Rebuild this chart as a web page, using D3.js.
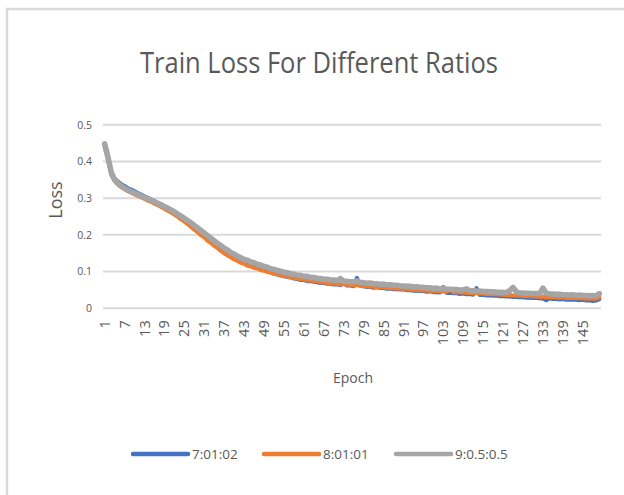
<!DOCTYPE html>
<html>
<head>
<meta charset="utf-8">
<script src="https://cdn.jsdelivr.net/npm/d3@7"></script>
<style>
  body { margin: 0; background: #fff; }
  text { font-family: "Open Sans", "Noto Sans", sans-serif; fill: #595959; }
</style>
</head>
<body>
<svg id="chart" width="624" height="495"></svg>
<script>
// Epoch categories and the ticks shown on each axis
const epochs = d3.range(1, 151);
const xTickLabels = [1, 7, 13, 19, 25, 31, 37, 43, 49, 55, 61, 67, 73, 79, 85, 91, 97,
  103, 109, 115, 121, 127, 133, 139, 145];
const yTicks = [0, 0.1, 0.2, 0.3, 0.4, 0.5];

// Training loss per epoch, one array per split ratio
const loss_7_1_2 = [
  0.445, 0.410, 0.368, 0.354, 0.345, 0.338, 0.333, 0.327, 0.323, 0.319,
  0.314, 0.310, 0.305, 0.301, 0.296, 0.292, 0.287, 0.282, 0.278, 0.272,
  0.267, 0.261, 0.255, 0.249, 0.242, 0.236, 0.229, 0.222, 0.215, 0.207,
  0.200, 0.193, 0.185, 0.179, 0.171, 0.165, 0.158, 0.151, 0.146, 0.140,
  0.136, 0.130, 0.127, 0.122, 0.119, 0.114, 0.111, 0.106, 0.104, 0.100,
  0.098, 0.094, 0.092, 0.089, 0.088, 0.085, 0.084, 0.081, 0.080, 0.077,
  0.077, 0.074, 0.074, 0.072, 0.071, 0.069, 0.069, 0.067, 0.067, 0.065,
  0.065, 0.063, 0.068, 0.062, 0.062, 0.060, 0.083, 0.061, 0.060, 0.058,
  0.058, 0.056, 0.057, 0.055, 0.055, 0.053, 0.054, 0.052, 0.052, 0.051,
  0.051, 0.049, 0.050, 0.048, 0.048, 0.047, 0.047, 0.045, 0.046, 0.044,
  0.044, 0.043, 0.058, 0.042, 0.042, 0.041, 0.041, 0.039, 0.040, 0.038,
  0.039, 0.037, 0.055, 0.036, 0.037, 0.035, 0.035, 0.034, 0.034, 0.033,
  0.033, 0.032, 0.032, 0.031, 0.031, 0.030, 0.030, 0.029, 0.029, 0.028,
  0.028, 0.027, 0.027, 0.022, 0.027, 0.025, 0.026, 0.024, 0.025, 0.023,
  0.024, 0.023, 0.023, 0.022, 0.023, 0.021, 0.022, 0.020, 0.021, 0.025
];
const loss_8_1_1 = [
  0.440, 0.403, 0.363, 0.347, 0.337, 0.330, 0.324, 0.319, 0.315, 0.310,
  0.306, 0.302, 0.298, 0.293, 0.290, 0.285, 0.281, 0.276, 0.271, 0.266,
  0.261, 0.255, 0.249, 0.242, 0.236, 0.229, 0.222, 0.214, 0.207, 0.199,
  0.193, 0.184, 0.178, 0.170, 0.164, 0.156, 0.150, 0.144, 0.139, 0.133,
  0.129, 0.124, 0.121, 0.116, 0.114, 0.110, 0.108, 0.104, 0.102, 0.099,
  0.097, 0.094, 0.093, 0.090, 0.089, 0.086, 0.085, 0.082, 0.082, 0.079,
  0.079, 0.076, 0.076, 0.074, 0.074, 0.071, 0.071, 0.069, 0.069, 0.067,
  0.067, 0.065, 0.066, 0.064, 0.064, 0.062, 0.063, 0.061, 0.061, 0.059,
  0.060, 0.058, 0.058, 0.057, 0.057, 0.055, 0.056, 0.054, 0.054, 0.053,
  0.053, 0.051, 0.052, 0.050, 0.051, 0.049, 0.049, 0.048, 0.048, 0.047,
  0.047, 0.046, 0.046, 0.045, 0.052, 0.044, 0.044, 0.043, 0.043, 0.042,
  0.042, 0.041, 0.041, 0.040, 0.040, 0.039, 0.039, 0.038, 0.038, 0.037,
  0.037, 0.036, 0.036, 0.035, 0.035, 0.034, 0.034, 0.033, 0.034, 0.032,
  0.033, 0.031, 0.032, 0.030, 0.031, 0.030, 0.030, 0.029, 0.030, 0.028,
  0.029, 0.028, 0.028, 0.027, 0.028, 0.026, 0.027, 0.026, 0.026, 0.030
];
const loss_9_05_05 = [
  0.448, 0.412, 0.370, 0.350, 0.340, 0.333, 0.327, 0.322, 0.318, 0.314,
  0.310, 0.306, 0.302, 0.298, 0.294, 0.290, 0.286, 0.282, 0.277, 0.273,
  0.268, 0.263, 0.257, 0.251, 0.245, 0.239, 0.233, 0.226, 0.219, 0.212,
  0.205, 0.198, 0.191, 0.184, 0.177, 0.171, 0.164, 0.159, 0.152, 0.148,
  0.142, 0.138, 0.133, 0.131, 0.126, 0.124, 0.120, 0.118, 0.114, 0.112,
  0.108, 0.106, 0.103, 0.101, 0.098, 0.097, 0.094, 0.093, 0.090, 0.090,
  0.087, 0.087, 0.084, 0.084, 0.082, 0.081, 0.079, 0.079, 0.077, 0.077,
  0.075, 0.081, 0.074, 0.074, 0.072, 0.072, 0.075, 0.070, 0.070, 0.068,
  0.069, 0.067, 0.067, 0.065, 0.066, 0.064, 0.064, 0.063, 0.063, 0.061,
  0.061, 0.060, 0.060, 0.058, 0.059, 0.057, 0.057, 0.056, 0.056, 0.054,
  0.055, 0.053, 0.054, 0.052, 0.052, 0.051, 0.051, 0.050, 0.050, 0.053,
  0.048, 0.048, 0.047, 0.047, 0.046, 0.046, 0.045, 0.045, 0.044, 0.044,
  0.043, 0.043, 0.048, 0.057, 0.045, 0.042, 0.042, 0.041, 0.041, 0.040,
  0.040, 0.040, 0.055, 0.041, 0.039, 0.039, 0.038, 0.038, 0.037, 0.037,
  0.036, 0.037, 0.035, 0.036, 0.035, 0.035, 0.034, 0.035, 0.034, 0.040
];

const seriesNames = ["7:01:02", "8:01:01", "9:0.5:0.5"];
const seriesColors = ["#4472C4", "#ED7D31", "#A5A5A5"];
const seriesValues = [loss_7_1_2, loss_8_1_1, loss_9_05_05];

const svg = d3.select("#chart");

// outer chart frame
svg.append("rect")
  .attr("x", 7).attr("y", 9).attr("width", 700).attr("height", 600)
  .attr("fill", "none").attr("stroke", "#d9d9d9").attr("stroke-width", 2.5);

const plot = { left: 103, right: 601, top: 124.7, bottom: 308.3 };

const x = d3.scaleBand().domain(epochs).range([plot.left, plot.right]);
const y = d3.scaleLinear().domain([0, 0.5]).range([plot.bottom, plot.top]);
const cx = d => x(d) + x.bandwidth() / 2;

// horizontal gridlines
svg.append("g").selectAll("line")
  .data(yTicks).join("line")
  .attr("x1", plot.left).attr("x2", plot.right)
  .attr("y1", d => y(d)).attr("y2", d => y(d))
  .attr("stroke", "#d9d9d9").attr("stroke-width", 2);

// y axis labels
const yAxis = svg.append("g")
  .attr("transform", `translate(${plot.left},0)`)
  .call(d3.axisLeft(y).tickValues(yTicks).tickSize(0).tickPadding(11)
    .tickFormat(d => String(d)));
yAxis.select(".domain").remove();
yAxis.selectAll("text").style("font-size", "10.5px").attr("fill", "#595959")
  .style("font-family", '"Open Sans", sans-serif');

// x axis labels, rotated
const xAxis = svg.append("g")
  .attr("transform", `translate(0,${plot.bottom})`)
  .call(d3.axisBottom(x).tickValues(xTickLabels).tickSize(0));
xAxis.select(".domain").remove();
xAxis.selectAll("text")
  .attr("transform", "rotate(-90)")
  .attr("x", -12).attr("y", 0).attr("dy", "0.35em")
  .style("text-anchor", "end")
  .style("font-size", "14.5px")
  .style("font-family", '"Open Sans", sans-serif')
  .attr("fill", "#595959");

// loss lines
const line = d3.line()
  .x((d, i) => cx(epochs[i]))
  .y(d => y(d));
const widths = [4, 4, 5.5];
seriesValues.forEach((vals, k) => {
  svg.append("path")
    .datum(vals)
    .attr("d", line)
    .attr("fill", "none")
    .attr("stroke", seriesColors[k])
    .attr("stroke-width", widths[k])
    .attr("stroke-linejoin", "round")
    .attr("stroke-linecap", "round");
});

// title and axis titles
svg.append("text")
  .attr("x", 319).attr("y", 73)
  .attr("text-anchor", "middle")
  .attr("textLength", 358).attr("lengthAdjust", "spacingAndGlyphs")
  .style("font-size", "30px")
  .text("Train Loss For Different Ratios");

svg.append("text")
  .attr("transform", "translate(62,200) rotate(-90)")
  .attr("text-anchor", "middle")
  .style("font-size", "18px")
  .text("Loss");

svg.append("text")
  .attr("x", 353).attr("y", 383)
  .attr("text-anchor", "middle")
  .style("font-size", "14px")
  .text("Epoch");

// legend
const legendX = [133, 264, 396];
const legend = svg.append("g").selectAll("g")
  .data(seriesNames).join("g")
  .attr("transform", (d, i) => `translate(${legendX[i]},454)`);
legend.append("line")
  .attr("x1", 0).attr("x2", 55).attr("y1", 0).attr("y2", 0)
  .attr("stroke", (d, i) => seriesColors[i])
  .attr("stroke-width", 4.5).attr("stroke-linecap", "round");
legend.append("text")
  .attr("x", 59).attr("dy", "0.35em")
  .style("font-size", "13.5px")
  .text(d => d);
</script>
</body>
</html>
